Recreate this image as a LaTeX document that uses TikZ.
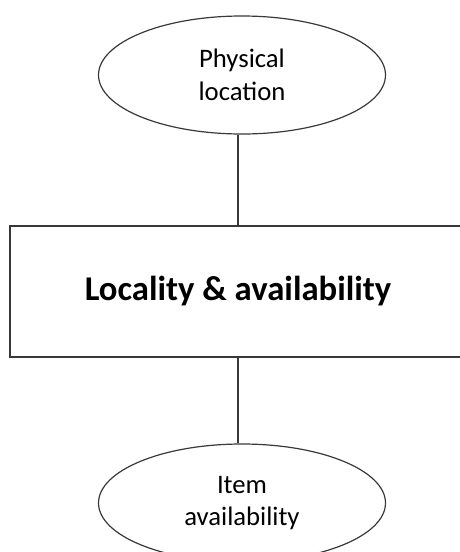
\documentclass[tikz,border=0pt]{standalone}
\usepackage{fontspec}
\setmainfont{Carlito}
\usetikzlibrary{shapes.geometric}

\tikzset{
  outline/.style={draw=black!78, line width=1.2pt},
  oval/.style={outline, ellipse, minimum width=287pt, minimum height=118pt,
    inner sep=0pt, align=center, font=\fontsize{26.7pt}{32.5pt}\selectfont},
  mainbox/.style={outline, rectangle, minimum width=456pt, minimum height=131pt,
    inner sep=0pt, font=\fontsize{34.7pt}{42pt}\selectfont\bfseries},
  link/.style={draw=black!78, line width=1.2pt}
}

\begin{document}
\begin{tikzpicture}[x=1pt, y=-1pt]
  \useasboundingbox (0,0) rectangle (460,552);
  \clip (0,0) rectangle (460,552);

  \node[oval] (loc) at (242,75) {Physical\\location};
  \node[mainbox] (box) at (238,291.5) {Locality \& availability};
  \node[oval] (item) at (242,503) {Item\\availability};

  \draw[link] (box.north) -- (box.north |- loc.south);
  \draw[link] (box.south) -- (box.south |- item.north);
\end{tikzpicture}
\end{document}
